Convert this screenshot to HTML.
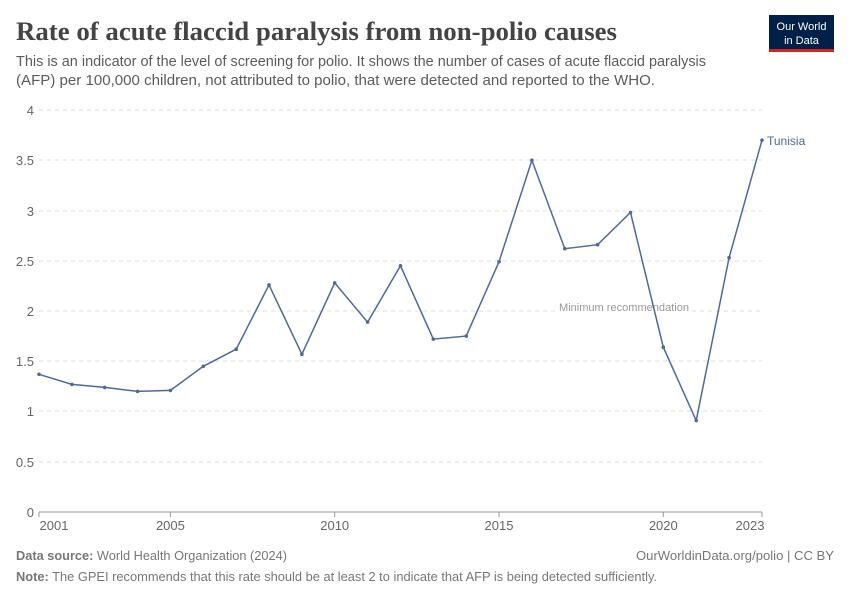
<!DOCTYPE html>
<html><head><meta charset="utf-8"><style>
body{margin:0;background:#fff;}
svg{display:block;font-family:"Liberation Sans",sans-serif;}
</style></head><body>
<svg width="850" height="600" xmlns="http://www.w3.org/2000/svg">
<text x="16" y="40" font-family="Liberation Serif,serif" font-size="26.5" font-weight="bold" fill="#444" textLength="601" lengthAdjust="spacingAndGlyphs">Rate of acute flaccid paralysis from non-polio causes</text>
<text x="16" y="66" font-size="14.5" fill="#5b5b5b" textLength="690" lengthAdjust="spacingAndGlyphs">This is an indicator of the level of screening for polio. It shows the number of cases of acute flaccid paralysis</text>
<text x="16" y="85" font-size="14.5" fill="#5b5b5b" textLength="639" lengthAdjust="spacingAndGlyphs">(AFP) per 100,000 children, not attributed to polio, that were detected and reported to the WHO.</text>
<rect x="769" y="15" width="65" height="35" fill="#002147"/>
<rect x="769" y="49" width="65" height="3" fill="#ce261e"/>
<text x="801.5" y="30" font-size="11" fill="#fff" text-anchor="middle">Our World</text>
<text x="801.5" y="44" font-size="11" fill="#fff" text-anchor="middle">in Data</text>
<g stroke="#ddd" stroke-dasharray="4,4" stroke-width="1">
<line x1="39" x2="762" y1="110" y2="110"/><line x1="39" x2="762" y1="160" y2="160"/>
<line x1="39" x2="762" y1="211" y2="211"/><line x1="39" x2="762" y1="261" y2="261"/>
<line x1="39" x2="555" y1="311" y2="311"/><line x1="692" x2="762" y1="311" y2="311"/>
<line x1="39" x2="762" y1="361" y2="361"/>
<line x1="39" x2="762" y1="411" y2="411"/><line x1="39" x2="762" y1="462" y2="462"/>
</g>
<text x="559" y="311" font-size="11" fill="#999" textLength="130" lengthAdjust="spacingAndGlyphs">Minimum recommendation</text>
<g font-size="13" fill="#666" text-anchor="end">
<text x="34" y="115">4</text><text x="34" y="165">3.5</text><text x="34" y="216">3</text>
<text x="34" y="266">2.5</text><text x="34" y="316">2</text><text x="34" y="366">1.5</text>
<text x="34" y="416">1</text><text x="34" y="467">0.5</text><text x="34" y="517">0</text>
</g>
<line x1="39" x2="762" y1="512" y2="512" stroke="#999"/>
<g stroke="#999"><line x1="39" x2="39" y1="512" y2="517"/><line x1="170.4" x2="170.4" y1="512" y2="517"/><line x1="334.7" x2="334.7" y1="512" y2="517"/><line x1="499" x2="499" y1="512" y2="517"/><line x1="663.3" x2="663.3" y1="512" y2="517"/><line x1="762" x2="762" y1="512" y2="517"/></g>
<g font-size="13" fill="#666" text-anchor="middle">
<text x="54" y="530">2001</text><text x="170.4" y="530">2005</text><text x="334.7" y="530">2010</text>
<text x="499" y="530">2015</text><text x="663.3" y="530">2020</text><text x="750" y="530">2023</text>
</g>
<polyline fill="none" stroke="#4c6a9c" stroke-width="1.5" points="39,374.3 71.9,384.4 104.7,387.4 137.6,391.4 170.4,390.4 203.3,366.3 236.2,349.2 269,284.9 301.9,354.2 334.7,282.9 367.6,322.1 400.5,265.8 433.3,339.1 466.2,336.1 499,261.8 531.9,160.3 564.8,248.7 597.6,244.7 630.5,212.5 663.3,347.2 696.2,420.5 729.1,257.7 762,140.2"/>
<g fill="#4c6a9c">
<circle cx="39" cy="374.3" r="1.8"/><circle cx="71.9" cy="384.4" r="1.8"/><circle cx="104.7" cy="387.4" r="1.8"/><circle cx="137.6" cy="391.4" r="1.8"/><circle cx="170.4" cy="390.4" r="1.8"/><circle cx="203.3" cy="366.3" r="1.8"/><circle cx="236.2" cy="349.2" r="1.8"/><circle cx="269" cy="284.9" r="1.8"/><circle cx="301.9" cy="354.2" r="1.8"/><circle cx="334.7" cy="282.9" r="1.8"/><circle cx="367.6" cy="322.1" r="1.8"/><circle cx="400.5" cy="265.8" r="1.8"/><circle cx="433.3" cy="339.1" r="1.8"/><circle cx="466.2" cy="336.1" r="1.8"/><circle cx="499" cy="261.8" r="1.8"/><circle cx="531.9" cy="160.3" r="1.8"/><circle cx="564.8" cy="248.7" r="1.8"/><circle cx="597.6" cy="244.7" r="1.8"/><circle cx="630.5" cy="212.5" r="1.8"/><circle cx="663.3" cy="347.2" r="1.8"/><circle cx="696.2" cy="420.5" r="1.8"/><circle cx="729.1" cy="257.7" r="1.8"/><circle cx="762" cy="140.2" r="1.8"/>
</g>
<text x="767" y="145" font-size="12" fill="#4c6a9c">Tunisia</text>
<text x="16" y="560" font-size="13" fill="#777" textLength="271" lengthAdjust="spacingAndGlyphs"><tspan font-weight="bold">Data source:</tspan> World Health Organization (2024)</text>
<text x="834" y="560" font-size="13" fill="#777" text-anchor="end" textLength="198" lengthAdjust="spacingAndGlyphs">OurWorldinData.org/polio | CC BY</text>
<text x="16" y="581" font-size="13" fill="#777" textLength="641" lengthAdjust="spacingAndGlyphs"><tspan font-weight="bold">Note:</tspan> The GPEI recommends that this rate should be at least 2 to indicate that AFP is being detected sufficiently.</text>
</svg>
</body></html>
